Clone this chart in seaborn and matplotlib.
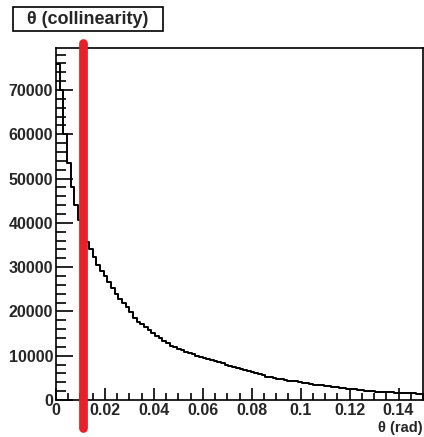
import matplotlib
matplotlib.use("Agg")
import matplotlib.pyplot as plt
import matplotlib.transforms as mtransforms
from matplotlib.patches import Rectangle
from matplotlib.ticker import MultipleLocator
import seaborn as sns
import pandas as pd
import numpy as np

# histogram of the collinearity angle, 100 bins over 0..0.15 rad
theta_lo = 0.0
theta_hi = 0.15
n_bins = 100
counts = [
    75800, 70000, 60000, 53500, 48000, 44000, 40600, 38000, 35700, 34000,
    32300, 30500, 29200, 28000, 26700, 25400, 24000, 22900, 22000, 21100,
    19800, 18600, 17700, 17100, 16400, 15700, 15100, 14500, 13900, 13400,
    12900, 12300, 11900, 11600, 11300, 10900, 10600, 10300, 10000, 9800,
    9500, 9200, 8950, 8700, 8500, 8250, 8000, 7750, 7500, 7250,
    7000, 6750, 6500, 6250, 6000, 5800, 5550, 5300, 5100, 4950,
    4800, 4650, 4500, 4400, 4300, 4200, 4100, 3950, 3800, 3650,
    3500, 3400, 3300, 3150, 3050, 2950, 2850, 2750, 2650, 2550,
    2500, 2400, 2300, 2200, 2100, 2000, 1950, 1900, 1850, 1800,
    1750, 1700, 1650, 1600, 1600, 1550, 1550, 1500, 1450, 1400,
]
cut_value = 0.011
title_text = "\u03b8 (collinearity)"
xlabel_text = "\u03b8 (rad)"
y_max = 79500

sns.set_style("ticks")
plt.rcParams['font.family'] = ['Liberation Sans', 'DejaVu Sans']
plt.rcParams['font.weight'] = 'bold'

edges = np.linspace(theta_lo, theta_hi, n_bins + 1)
df = pd.DataFrame({'theta': 0.5 * (edges[:-1] + edges[1:]), 'n': counts})

W, H = 424, 437
fig = plt.figure(figsize=(W / 100, H / 100), dpi=100)
ax = fig.add_axes([56 / W, 1 - 400 / H, 367 / W, 352 / H])

sns.histplot(data=df, x='theta', weights='n', bins=list(edges), element='step', fill=False,
             color='black', linewidth=1.4, ax=ax)

ax.set_xlim(theta_lo, theta_hi)
ax.set_ylim(0, y_max)

# cut line, drawn beyond the frame
trans = mtransforms.blended_transform_factory(ax.transData, ax.transAxes)
ax.plot([cut_value, cut_value], [-0.08, 1.015], transform=trans, color='#e8202a',
        linewidth=6.3, solid_capstyle='round', clip_on=False, zorder=5)

ax.xaxis.set_major_locator(MultipleLocator(0.02))
ax.xaxis.set_minor_locator(MultipleLocator(0.005))
ax.yaxis.set_major_locator(MultipleLocator(10000))
ax.yaxis.set_minor_locator(MultipleLocator(2000))
ax.set_xticks(np.arange(0, 0.141, 0.02))
ax.set_xticklabels(['0', '0.02', '0.04', '0.06', '0.08', '0.1', '0.12', '0.14'])
ax.tick_params(axis='both', which='both', direction='in', color='black')
ax.tick_params(axis='y', which='major', length=12, width=1.2, pad=2, labelsize=11.5)
ax.tick_params(axis='y', which='minor', length=7, width=1.2)
ax.tick_params(axis='x', which='major', length=9, width=1.2, pad=2, labelsize=11.5)
ax.tick_params(axis='x', which='minor', length=5, width=1.2)
for s in ax.spines.values():
    s.set_visible(True)
    s.set_color('black')
    s.set_linewidth(1.2)

ax.set_ylabel('')
ax.set_xlabel(xlabel_text, loc='right', fontsize=10.5, fontweight='bold', labelpad=2)

# title box like ROOT's pave
fig.patches.append(Rectangle((13 / W, 1 - 31 / H), 150 / W, 24 / H, transform=fig.transFigure,
                             fc='white', ec='black', lw=1.2))
fig.text(88 / W, 1 - 19 / H, title_text, ha='center', va='center', fontsize=13,
         fontweight='bold')

plt.savefig('out.png', dpi=100)
